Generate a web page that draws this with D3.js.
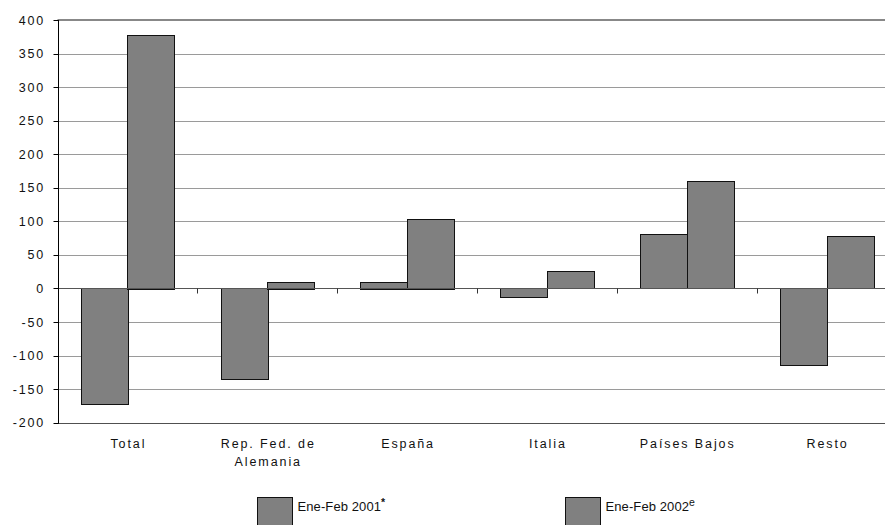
<!DOCTYPE html>
<html>
<head>
<meta charset="utf-8">
<script src="https://cdn.jsdelivr.net/npm/d3@7"></script>
<style>
  html, body { margin: 0; padding: 0; background: #fff; }
  svg { display: block; }
  text { font-family: "Liberation Sans", Arial, sans-serif; fill: #111; }
</style>
</head>
<body>
<svg id="chart" width="885" height="525"></svg>
<script>
const categories = [["Total"], ["Rep. Fed. de", "Alemania"], ["España"], ["Italia"], ["Países Bajos"], ["Resto"]];
const seriesNames = ["Ene-Feb 2001", "Ene-Feb 2002"];
const seriesSup = ["*", "e"];
const values2001 = [-173, -135, 10, -13, 81, -114];
const values2002 = [378, 10, 104, 26, 160, 78];
const yTicks = [400, 350, 300, 250, 200, 150, 100, 50, 0, -50, -100, -150, -200];

const svg = d3.select("#chart");
const plotLeft = 57.5, plotRight = 896.5, plotTop = 20, plotBottom = 422.7;

const catKeys = categories.map(c => c.join(" "));
const x0 = d3.scaleBand().domain(catKeys).range([plotLeft, plotRight]).padding(0);
const x1 = d3.scaleBand().domain(seriesNames).range([0, x0.bandwidth()]).paddingInner(0).paddingOuter(0.5);
const y = d3.scaleLinear().domain([-200, 400]).range([plotBottom, plotTop]);

const snap = v => Math.round(v) + 0.5;

// gridlines
svg.append("g").selectAll("line").data(yTicks.filter(t => t !== 0 && t !== 400 && t !== -200)).join("line")
  .attr("x1", plotLeft).attr("x2", 885)
  .attr("y1", d => snap(y(d))).attr("y2", d => snap(y(d)))
  .attr("stroke", "#9a9a9a").attr("stroke-width", 1);

// top and bottom borders
svg.append("line").attr("x1", plotLeft).attr("x2", 885).attr("y1", y(400)).attr("y2", y(400))
  .attr("stroke", "#606060").attr("stroke-width", 1.6);
svg.append("line").attr("x1", plotLeft).attr("x2", 885).attr("y1", snap(y(-200))).attr("y2", snap(y(-200)))
  .attr("stroke", "#505050").attr("stroke-width", 1.2);

// bars
const rows = catKeys.map((k, i) => ({ k, vals: [values2001[i], values2002[i]] }));
const g = svg.append("g");
rows.forEach(r => {
  r.vals.forEach((v, j) => {
    const xs = x0(r.k) + x1(seriesNames[j]);
    g.append("rect")
      .attr("x", Math.round(xs) + 0.5)
      .attr("width", Math.round(x1.bandwidth()))
      .attr("y", Math.round(Math.min(y(v), y(0))) + 0.5)
      .attr("height", Math.max(1, Math.round(Math.abs(y(v) - y(0)))))
      .attr("fill", "#808080").attr("stroke", "#111").attr("stroke-width", 1);
  });
});

// zero line with tick marks
const y0 = snap(y(0));
svg.append("line").attr("x1", plotLeft).attr("x2", 885).attr("y1", y0).attr("y2", y0)
  .attr("stroke", "#555").attr("stroke-width", 1);
svg.append("g").selectAll("line").data(catKeys.slice(1)).join("line")
  .attr("x1", d => snap(x0(d))).attr("x2", d => snap(x0(d)))
  .attr("y1", y0).attr("y2", y0 + 5)
  .attr("stroke", "#333").attr("stroke-width", 1);

// y axis
svg.append("line").attr("x1", snap(plotLeft)).attr("x2", snap(plotLeft)).attr("y1", plotTop).attr("y2", plotBottom + 1)
  .attr("stroke", "#000").attr("stroke-width", 1);
svg.append("g").selectAll("line").data(yTicks).join("line")
  .attr("x1", snap(plotLeft) - 5).attr("x2", snap(plotLeft))
  .attr("y1", d => snap(y(d))).attr("y2", d => snap(y(d)))
  .attr("stroke", "#000");
svg.append("g").selectAll("text").data(yTicks).join("text")
  .attr("x", 45).attr("y", d => y(d) + 4.5)
  .attr("text-anchor", "end")
  .style("font-size", "12.5px").style("letter-spacing", "1.8px")
  .text(d => d);

// x labels
const xl = svg.append("g");
categories.forEach((c, i) => {
  const cx = x0(catKeys[i]) + x0.bandwidth() / 2;
  const t = xl.append("text").attr("text-anchor", "middle")
    .style("font-size", "12.5px").style("letter-spacing", "1.9px");
  c.forEach((line, li) => {
    t.append("tspan").attr("x", cx + 1).attr("y", 448 + li * 17.5).text(line);
  });
});

// legend
const legendX = [257, 565];
seriesNames.forEach((s, i) => {
  svg.append("rect").attr("x", legendX[i] + 0.5).attr("y", 497.5).attr("width", 35).attr("height", 36)
    .attr("fill", "#808080").attr("stroke", "#111");
  const t = svg.append("text").attr("x", legendX[i] + 40.5).attr("y", 511)
    .style("font-size", "13px").style("letter-spacing", "0.1px");
  t.append("tspan").text(s);
  t.append("tspan").attr("dy", -5).style("font-size", "10.5px")
    .style("font-weight", i === 0 ? "bold" : "normal").text(seriesSup[i]);
});
</script>
</body>
</html>
